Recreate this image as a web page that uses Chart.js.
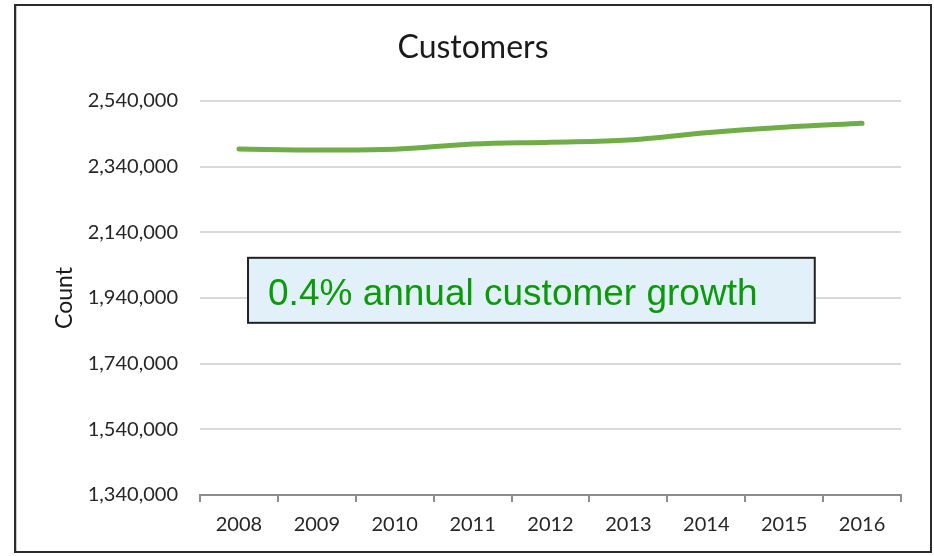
<!DOCTYPE html>
<html>
<head>
<meta charset="utf-8">
<script src="https://cdn.jsdelivr.net/npm/chart.js@4.4.1/dist/chart.umd.min.js"></script>
<style>
  html, body { margin: 0; padding: 0; background: #ffffff; }
  #wrap { width: 934px; height: 556px; position: relative; }
</style>
</head>
<body>
<div id="wrap"><canvas id="chart" width="934" height="556"></canvas></div>
<script>
// Customer counts by year
const years = ['2008', '2009', '2010', '2011', '2012', '2013', '2014', '2015', '2016'];
const customers = [2393800, 2390800, 2392900, 2409000, 2414500, 2421200, 2443400, 2460200, 2472100];
const yMin = 1340000;
const yMax = 2540000;
const yStep = 200000;
const chartTitle = 'Customers';
const yTitle = 'Count';
const noteText = '0.4% annual customer growth';

// Frame box of the whole chart
const frame = { left: 15, top: 5, right: 931, bottom: 552 };

// White background, dark outer frame and the centred chart title
const framePlugin = {
  id: 'frame',
  beforeDraw(chart) {
    const ctx = chart.ctx;
    ctx.save();
    ctx.fillStyle = '#ffffff';
    ctx.fillRect(0, 0, chart.width, chart.height);
    ctx.strokeStyle = '#2b2b2b';
    ctx.lineWidth = 2;
    ctx.strokeRect(frame.left, frame.top, frame.right - frame.left, frame.bottom - frame.top);
    ctx.strokeStyle = '#c8c8c8';
    ctx.lineWidth = 1;
    ctx.beginPath();
    ctx.moveTo(frame.left + 1.5, frame.top + 1);
    ctx.lineTo(frame.left + 1.5, frame.bottom - 1);
    ctx.stroke();

    ctx.fillStyle = '#1a1a1a';
    ctx.font = '32px Lato, sans-serif';
    ctx.textAlign = 'center';
    ctx.textBaseline = 'alphabetic';
    ctx.fillText(chartTitle, (frame.left + frame.right) / 2, 58);
    ctx.restore();
  }
};

// Callout box inside the plot area
const notePlugin = {
  id: 'note',
  afterDraw(chart) {
    const a = chart.chartArea;
    const w = a.right - a.left;
    const h = a.bottom - a.top;
    const x0 = a.left + 0.0685 * w;
    const x1 = a.left + 0.877 * w;
    const y0 = a.top + 0.398 * h;
    const y1 = a.top + 0.563 * h;
    const ctx = chart.ctx;
    ctx.save();
    ctx.fillStyle = '#e2f1f9';
    ctx.fillRect(x0, y0, x1 - x0, y1 - y0);
    ctx.strokeStyle = '#222222';
    ctx.lineWidth = 2;
    ctx.strokeRect(x0, y0, x1 - x0, y1 - y0);
    ctx.fillStyle = '#0a9a0a';
    ctx.font = '37px "Liberation Sans", Arial, sans-serif';
    ctx.textAlign = 'left';
    ctx.textBaseline = 'alphabetic';
    ctx.fillText(noteText, x0 + 20, y0 + 0.73 * (y1 - y0));
    ctx.restore();
  }
};

const fmt = v => Math.round(v).toLocaleString('en-US');

new Chart(document.getElementById('chart'), {
  type: 'line',
  data: {
    labels: years,
    datasets: [{
      label: 'Customers',
      data: customers,
      borderColor: '#70ad47',
      borderWidth: 5,
      borderCapStyle: 'round',
      pointRadius: 0,
      pointHoverRadius: 0,
      tension: 0.35,
      fill: false
    }]
  },
  options: {
    responsive: false,
    animation: false,
    devicePixelRatio: 1,
    layout: { padding: { left: 0, right: 33, top: 101, bottom: 0 } },
    plugins: {
      legend: { display: false },
      tooltip: { enabled: false },
      title: { display: false }
    },
    scales: {
      x: {
        offset: true,
        grid: {
          offset: true,
          drawOnChartArea: false,
          drawTicks: true,
          tickLength: 7,
          color: '#8c8c8c',
          lineWidth: 2
        },
        border: { display: true, color: '#8c8c8c', width: 2 },
        ticks: {
          color: '#262626',
          font: { family: 'Lato', size: 20 },
          padding: 11,
          maxRotation: 0
        },
        afterFit(scale) { scale.height = 61; }
      },
      y: {
        min: yMin,
        max: yMax,
        grid: {
          color: '#d9d9d9',
          lineWidth: 2,
          drawTicks: false
        },
        border: { display: false },
        ticks: {
          stepSize: yStep,
          color: '#262626',
          font: { family: 'Lato', size: 20 },
          padding: 22,
          callback: v => fmt(v)
        },
        title: {
          display: true,
          text: yTitle,
          color: '#1a1a1a',
          font: { family: 'Lato', size: 23 },
          padding: { top: 51, bottom: 0 }
        },
        afterFit(scale) { scale.width = 200; }
      }
    }
  },
  plugins: [framePlugin, notePlugin]
});
</script>
</body>
</html>
